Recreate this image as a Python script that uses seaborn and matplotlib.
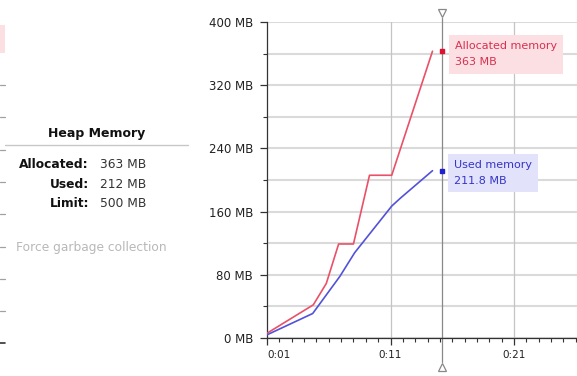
import numpy as np
import pandas as pd
import matplotlib
matplotlib.use("Agg")
import matplotlib.pyplot as plt
import seaborn as sns
from matplotlib.lines import Line2D
from matplotlib.patches import Rectangle
from matplotlib.ticker import MultipleLocator, FixedLocator

# data (time in seconds, memory in MB)
alloc_t = [1.0, 4.75, 5.8, 6.8, 8.0, 9.3, 11.1, 14.4]
alloc_mb = [6, 42, 69, 119, 119, 206, 206, 363]
used_t = [1.0, 4.7, 6.9, 8.1, 11.1, 11.8, 14.4]
used_mb = [4, 31, 78, 108, 167, 177, 211.8]
y_ticks = [0, 80, 160, 240, 320, 400]
x_ticks = [1, 11, 21]
x_labels = ["0:01", "0:11", "0:21"]
cursor_t = 15.15
heap_rows = ["Allocated:", "Used:", "Limit:"]
heap_vals = ["363 MB", "212 MB", "500 MB"]

red = "#ea5068"
blue = "#5252d8"

sns.set_theme(style="white")
plt.rcParams["font.family"] = ["DejaVu Sans"]

W, H = 577, 376
fig = plt.figure(figsize=(W / 100, H / 100), dpi=100)
fig.patch.set_facecolor("white")

# main chart axes: y axis at x=267px, 0 MB at y=338px, 400 MB at y=22px
ax = fig.add_axes([267 / W, 1 - 338 / H, (W - 267) / W, 316 / H])

alloc = pd.DataFrame({"t": alloc_t, "mb": alloc_mb})
used = pd.DataFrame({"t": used_t, "mb": used_mb})
sns.lineplot(data=alloc, x="t", y="mb", color=red, linewidth=1.2, ax=ax, zorder=3)
sns.lineplot(data=used, x="t", y="mb", color=blue, linewidth=1.2, ax=ax, zorder=3)

ax.set_xlim(1, 1 + (W - 267) / 12.35)
ax.set_ylim(0, 400)
ax.set_xlabel("")
ax.set_ylabel("")

# grid
for v in range(0, 401, 40):
    ax.axhline(v, color="#dadada", linewidth=1.5, zorder=0)
for t in x_ticks[1:]:
    ax.axvline(t, color="#c4c4c4", linewidth=0.9, zorder=0)

for s in ["top", "right"]:
    ax.spines[s].set_visible(False)
for s in ["left", "bottom"]:
    ax.spines[s].set_color("#333333")
    ax.spines[s].set_linewidth(0.9)

ax.yaxis.set_major_locator(FixedLocator(y_ticks))
ax.set_yticklabels([f"{v} MB" for v in y_ticks], fontsize=8.5, color="#222222")
ax.yaxis.set_minor_locator(MultipleLocator(40))
ax.xaxis.set_major_locator(FixedLocator(x_ticks))
ax.set_xticklabels(x_labels, fontsize=7.5, color="#222222")
ax.xaxis.set_minor_locator(MultipleLocator(1))
ax.tick_params(axis="both", which="both", bottom=True, left=True, direction="out")
ax.tick_params(axis="both", which="major", length=5, width=0.9, color="#333333", pad=5)
ax.tick_params(axis="both", which="minor", length=3, width=0.8, color="#333333")
ax.tick_params(axis="x", which="major", pad=4)
ax.get_xticklabels()[0].set_ha("left")

# cursor line with triangle handles
tr = ax.get_xaxis_transform()
ax.plot([cursor_t, cursor_t], [-0.076, 1.013], color="#888888", linewidth=0.9,
        transform=tr, clip_on=False, zorder=2)
ax.plot([cursor_t], [1.03], marker="v", markersize=6, mfc="white", mec="#888888",
        mew=0.9, transform=tr, clip_on=False)
ax.plot([cursor_t], [-0.093], marker="^", markersize=6, mfc="white", mec="#888888",
        mew=0.9, transform=tr, clip_on=False)

# values at the cursor and their labels
ax.plot([cursor_t], [alloc_mb[-1]], "s", color="#e01030", markersize=2.5, zorder=4)
ax.plot([cursor_t], [used_mb[-1]], "s", color="#2020d0", markersize=2.5, zorder=4)
ax.annotate(f"Allocated memory\n{alloc_mb[-1]:g} MB", (cursor_t, alloc_mb[-1]),
            xytext=(13, -3), textcoords="offset pixels", ha="left", va="center",
            fontsize=8, color="#d83050", linespacing=1.8,
            bbox=dict(boxstyle="square,pad=0.55", fc="#fbdfe3", ec="none"))
ax.annotate(f"Used memory\n{used_mb[-1]:g} MB", (cursor_t, used_mb[-1]),
            xytext=(12, -2), textcoords="offset pixels", ha="left", va="center",
            fontsize=8, color="#3535c8", linespacing=1.75,
            bbox=dict(boxstyle="square,pad=0.55", fc="#e2e2fa", ec="none"))

# left info panel
fig.text(97 / W, 1 - 133 / H, "Heap Memory", ha="center", va="center",
         fontsize=9, fontweight="bold", color="#111111")
fig.add_artist(Line2D([5 / W, 188 / W], [1 - 145 / H] * 2, color="#c8c8c8", linewidth=1))
for i, (lab, val) in enumerate(zip(heap_rows, heap_vals)):
    yy = 1 - (165 + i * 19.5) / H
    fig.text(89 / W, yy, lab, ha="right", va="center", fontsize=8.8,
             fontweight="bold", color="#111111")
    fig.text(100 / W, yy, val, ha="left", va="center", fontsize=8.8, color="#333333")
fig.text(16 / W, 1 - 248 / H, "Force garbage collection", ha="left", va="center",
         fontsize=8.8, color="#b8b8b8")

# remnants of the neighbouring chart at the left edge
fig.add_artist(Rectangle((0, 1 - 53 / H), 5 / W, 28 / H, color="#fbdfe3", lw=0))
for yy in np.arange(85, 320, 32.3):
    fig.add_artist(Line2D([0, 5 / W], [1 - yy / H] * 2, color="#a0a0a0", linewidth=0.9))
fig.add_artist(Line2D([0, 5 / W], [1 - 343 / H] * 2, color="#333333", linewidth=1.2))

fig.savefig("out.png", dpi=100)
